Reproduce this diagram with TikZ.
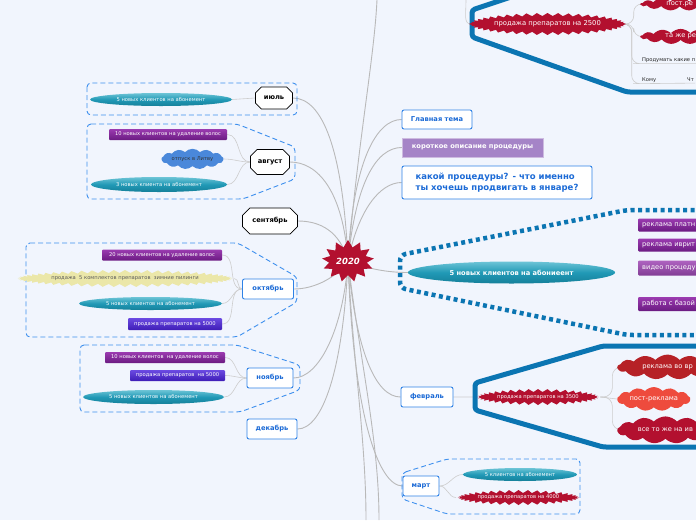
\documentclass[tikz,border=0pt]{standalone}
\usepackage{fontspec}
\setmainfont{DejaVu Sans}
\usepackage{tikz}
\usetikzlibrary{shapes.geometric, shapes.misc, shapes.symbols, backgrounds}
\definecolor{pagebg}{HTML}{F1F5FD}
\definecolor{lnk}{HTML}{B9B9B9}
\definecolor{sublnk}{HTML}{CDCDCD}
\definecolor{crim}{HTML}{B3102F}
\definecolor{redcl}{HTML}{B62126}
\definecolor{orcl}{HTML}{EE4B3D}
\definecolor{tealhi}{HTML}{6CC4D6}
\definecolor{tealmd}{HTML}{2199B6}
\definecolor{teallo}{HTML}{15809A}
\definecolor{purhi}{HTML}{9B3BB0}
\definecolor{purlo}{HTML}{6B1B82}
\definecolor{indhi}{HTML}{6B4AE2}
\definecolor{indlo}{HTML}{3E1DB6}
\definecolor{lilac}{HTML}{A584C7}
\definecolor{boxline}{HTML}{2F82E6}
\definecolor{boxtext}{HTML}{1B6AD6}
\definecolor{grpline}{HTML}{3D8FEE}
\definecolor{deepblue}{HTML}{0B75B2}
\definecolor{sand}{HTML}{EBE7A9}
\definecolor{skycl}{HTML}{4A88DA}
\newcommand{\mmsm}{\fontsize{5.2pt}{6.2pt}\selectfont}
\newcommand{\mmmd}{\fontsize{6.7pt}{8pt}\selectfont}
\newcommand{\mmlg}{\fontsize{8.5pt}{11pt}\selectfont}
\tikzset{
  hub/.style     = {starburst, starburst points=13, starburst point height=7pt, random starburst=0,
                    fill=crim, text=white, font=\fontsize{8.5pt}{10pt}\selectfont\bfseries\itshape,
                    minimum width=52pt, minimum height=42pt, inner sep=0pt},
  month/.style   = {chamfered rectangle, chamfered rectangle xsep=4pt, chamfered rectangle ysep=4pt,
                    draw=black, fill=white, line width=0.8pt, font=\mmmd\bfseries, inner sep=0pt},
  mbox/.style    = {draw=boxline, fill=white, rounded corners=2pt, line width=0.9pt,
                    text=boxtext, font=\mmmd\bfseries, inner sep=0pt},
  oval/.style    = {ellipse, inner sep=0pt, top color=tealhi, bottom color=teallo, middle color=tealmd,
                    text=white, font=\mmsm},
  pbox/.style    = {rectangle, rounded corners=1pt, inner sep=0pt, top color=purhi, bottom color=purlo,
                    text=white, font=\mmsm},
  ibox/.style    = {pbox, top color=indhi, bottom color=indlo},
  burst/.style   = {starburst, starburst points=40, starburst point height=3pt, random starburst=0,
                    fill=crim, text=white, font=\mmsm, inner sep=0pt},
  puff/.style    = {cloud, cloud puffs=13, cloud puff arc=95, aspect=4, inner sep=0pt, text=white, font=\mmmd},
  grp/.style     = {draw=grpline, line width=0.9pt, dash pattern=on 5pt off 3pt, rounded corners=4pt},
  hull/.style    = {draw=deepblue, line width=5pt, rounded corners=3pt},
  dothull/.style = {draw=deepblue, line width=4.5pt, dash pattern=on 4pt off 3.5pt, rounded corners=6pt},
  link/.style    = {draw=lnk, line width=0.9pt},
  sub/.style     = {draw=sublnk, line width=0.6pt}
}
\begin{document}
\begin{tikzpicture}[x=1pt, y=-1pt]
  \begin{scope}[on background layer]
    \fill[pagebg] (0,0) rectangle (696,520);
  \end{scope}
  \useasboundingbox (0,0) rectangle (696,520);
  \clip (0,0) rectangle (696,520);

  % group outlines
  \draw[grp] (87,83) rectangle (297,115);
  \draw[grp] (87,124) -- (237,124) -- (295,147) -- (295,179) -- (243,199) -- (87,199) -- cycle;
  \draw[grp] (26,243) -- (238,243) -- (297,277) -- (297,302) -- (237,337) -- (26,337) -- cycle;
  \draw[grp] (80,345) -- (237,345) -- (300,365) -- (300,390) -- (240,412) -- (80,412) -- cycle;
  \draw[grp] (402,473) -- (447,459) -- (580,459) -- (580,514) -- (447,514) -- (402,499) -- cycle;
  \draw[dothull] (702,210) -- (627,210) -- (400,255) -- (400,288) -- (627,335) -- (702,335);
  \draw[hull] (520,-6) -- (472,10) -- (472,37) -- (627,92) -- (702,92);
  \draw[hull] (702,346) -- (603,346) -- (475,383) -- (475,410) -- (603,447) -- (702,447);

  % centre
  \node[hub] (yr) at (348,261) {2020};

  % months on the left
  \node[month, minimum width=37pt, minimum height=22pt] (jul) at (274,98) {июль};
  \node[month, minimum width=39pt, minimum height=25pt] (aug) at (270,162) {август};
  \node[month, minimum width=55pt, minimum height=26pt] (sep) at (270,221) {сентябрь};
  \node[mbox, minimum width=51pt, minimum height=20pt] (oct) at (268,289) {октябрь};
  \node[mbox, minimum width=46pt, minimum height=20pt] (nov) at (270,378) {ноябрь};
  \node[mbox, minimum width=50pt, minimum height=20pt] (dec) at (272,429) {декабрь};

  \node[oval, minimum width=142pt, minimum height=13pt] (julA) at (161,99.5) {5 новых клиентов на абонемент};
  \node[pbox, minimum width=118pt, minimum height=11pt] (augA) at (168,134.5) {10 новых клиентов на удаление волос};
  \node[puff, fill=skycl, text=black!80, font=\mmsm, minimum width=62pt, minimum height=13pt] (augB) at (192.5,159) {отпуск в Литву};
  \node[oval, minimum width=136pt, minimum height=15pt] (augC) at (159,184.5) {3 новых клиента на абонемент};
  \node[pbox, minimum width=120pt, minimum height=11pt] (octA) at (162,255) {20 новых клиентов на удаление волос};
  \node[burst, starburst points=60, fill=sand, text=black!65, minimum width=190pt, minimum height=17pt] (octB) at (125,278.5) {продажа\ \ 5 комплектов препаратов\ \ зимние пилинги};
  \node[oval, minimum width=143pt, minimum height=13pt] (octC) at (150.5,303.5) {5 новых клиентов на абонемент};
  \node[ibox, minimum width=94pt, minimum height=12pt] (octD) at (175,324) {продажа препаратов на 5000};
  \node[pbox, minimum width=120pt, minimum height=11pt] (novA) at (165,357.5) {10 новых клиентов\ \ на удаление волос};
  \node[ibox, minimum width=95pt, minimum height=11pt] (novB) at (177.5,375.5) {продажа препаратов\ \ на 5000};
  \node[oval, minimum width=141pt, minimum height=14pt] (novC) at (153.5,397) {5 новых клиентов на абонемент};

  % right side
  \node[mbox, minimum width=70pt, minimum height=19pt] (main) at (437,119.5) {Главная тема};
  \node[rectangle, fill=lilac, draw=lilac!55!white, text=white, font=\mmmd\bfseries,
        minimum width=141pt, minimum height=19pt, inner sep=0pt] (brief) at (472.5,147.5) {короткое описание процедуры};
  \node[mbox, font=\mmlg\bfseries, align=left, minimum width=190pt, minimum height=33pt] (ask) at (497,182.5)
       {какой процедуры? - что именно\\ты хочешь продвигать в январе?};
  \node[oval, font=\mmmd\bfseries, minimum width=207pt, minimum height=22pt] (goal) at (511.5,272.5) {5 новых клиентов на абониеент};
  \node[pbox, font=\mmmd, anchor=west, inner xsep=4pt, minimum height=13pt] (adA) at (638,225) {реклама платн};
  \node[pbox, font=\mmmd, anchor=west, inner xsep=4pt, minimum height=13pt] (adB) at (638,245) {реклама иврит};
  \node[pbox, font=\mmmd, anchor=west, inner xsep=4pt, minimum height=15pt, top color=purhi!80!white, bottom color=purlo!85!white] (adC) at (638,268) {видео процеду};
  \node[pbox, font=\mmmd, anchor=west, inner xsep=4pt, minimum height=14pt] (adD) at (638,304) {работа с базой};

  \node[mbox, minimum width=52pt, minimum height=20pt] (feb) at (427,397) {февраль};
  \node[burst, minimum width=110pt, minimum height=16pt] (s3500) at (538,397) {продажа препаратов на 3500};
  \node[puff, fill=redcl, anchor=west, minimum width=100pt, minimum height=15pt] (radio) at (617,367) {реклама во вр};
  \node[puff, fill=orcl, anchor=west, minimum width=73pt, minimum height=15pt] (post) at (617,399) {пост-реклама};
  \node[puff, fill=crim, anchor=west, minimum width=96pt, minimum height=15pt] (same) at (617,430) {все то же на ив};

  \node[mbox, minimum width=36pt, minimum height=20pt] (mar) at (421,486) {март};
  \node[oval, minimum width=114pt, minimum height=13pt] (marA) at (520,474.5) {5 клиентов на абонемент};
  \node[burst, minimum width=109pt, minimum height=15pt] (marB) at (518.5,497.5) {продажа препаратов на 4000};

  \node[burst, starburst points=46, font=\fontsize{6.8pt}{8pt}\selectfont, minimum width=137pt, minimum height=22pt] (s2500) at (547.5,24) {продажа препаратов на 2500};
  \node[puff, fill=crim, anchor=west, minimum width=78pt, minimum height=13pt] (postA) at (640,4) {пост.ре};
  \node[puff, fill=crim, anchor=west, minimum width=80pt, minimum height=13pt] (sameA) at (640,36.5) {та же ре};
  \node[anchor=west, font=\mmsm, text=black!85, inner sep=1pt] (think) at (641,60) {Продумать какие п};
  \node[anchor=west, font=\mmsm, text=black!85, inner sep=1pt] (whom) at (641,80) {Кому};
  \node[anchor=west, font=\mmsm, text=black!85, inner sep=1pt] (what) at (686,80) {Чт};

  \coordinate (upA) at (377,0);
  \coordinate (upB) at (466,0);
  \coordinate (dnA) at (366,520);
  \coordinate (dnB) at (379,520);

  % connectors
  \begin{scope}[on background layer]
    \draw[link] (yr.center) .. controls +(-5,-110) and +(30,0) .. (jul.east);
    \draw[link] (yr.center) .. controls +(-5,-70) and +(28,0) .. (aug.east);
    \draw[link] (yr.center) .. controls +(-8,-30) and +(22,0) .. (sep.east);
    \draw[link] (yr.center) .. controls +(-10,15) and +(22,0) .. (oct.east);
    \draw[link] (yr.center) .. controls +(-5,70) and +(25,0) .. (nov.east);
    \draw[link] (yr.center) .. controls +(-5,110) and +(25,0) .. (dec.east);
    \draw[link] (yr.center) .. controls +(5,-100) and +(-25,0) .. (main.west);
    \draw[link] (yr.center) .. controls +(8,-80) and +(-25,0) .. (brief.west);
    \draw[link] (yr.center) .. controls +(10,-50) and +(-22,0) .. (ask.west);
    \draw[link] (yr.center) .. controls +(20,8) and +(-20,0) .. (goal.west);
    \draw[link] (yr.center) .. controls +(8,90) and +(-25,0) .. (feb.west);
    \draw[link] (yr.center) .. controls +(5,150) and +(-25,0) .. (mar.west);
    \draw[link] (yr.center) .. controls +(10,-120) and +(-3,60) .. (upA);
    \draw[link] (yr.center) .. controls +(5,100) and +(0,-80) .. (dnA);
    \draw[link] (yr.center) .. controls +(12,100) and +(0,-80) .. (dnB);

    \draw[sub] (jul.west) -- (julA.east);
    \draw[sub] (aug.west) to[out=180, in=0] (augA.east);
    \draw[sub] (aug.west) to[out=180, in=0] (augB.east);
    \draw[sub] (aug.west) to[out=180, in=0] (augC.east);
    \draw[sub] (oct.west) to[out=180, in=0] (octA.east);
    \draw[sub] (oct.west) to[out=180, in=0] (octB.east);
    \draw[sub] (oct.west) to[out=180, in=0] (octC.east);
    \draw[sub] (oct.west) to[out=180, in=0] (octD.east);
    \draw[sub] (nov.west) to[out=180, in=0] (novA.east);
    \draw[sub] (nov.west) to[out=180, in=0] (novB.east);
    \draw[sub] (nov.west) to[out=180, in=0] (novC.east);

    \draw[sub] (feb.east) -- (s3500.west);
    \draw[sub, rounded corners=9pt] (s3500.east) -- ++(12,0) |- (radio.west);
    \draw[sub] (s3500.east) -- (post.west);
    \draw[sub, rounded corners=9pt] (s3500.east) -- ++(12,0) |- (same.west);
    \draw[sub] (mar.east) to[out=0, in=180] (marA.west);
    \draw[sub] (mar.east) to[out=0, in=180] (marB.west);

    \draw[sub] (upB) .. controls +(0,15) and +(-8,0) .. (s2500.west);
    \draw[sub, rounded corners=8pt] (s2500.east) -- ++(10,0) |- (postA.west);
    \draw[sub, rounded corners=8pt] (s2500.east) -- ++(10,0) |- (sameA.west);
    \draw[sub, rounded corners=8pt] (s2500.east) -- ++(8,0) |- (think.south west) -- (think.south east);
    \draw[sub, rounded corners=8pt] (s2500.east) -- ++(8,0) |- (whom.south west) -- (what.south east);
  \end{scope}
\end{tikzpicture}
\end{document}
